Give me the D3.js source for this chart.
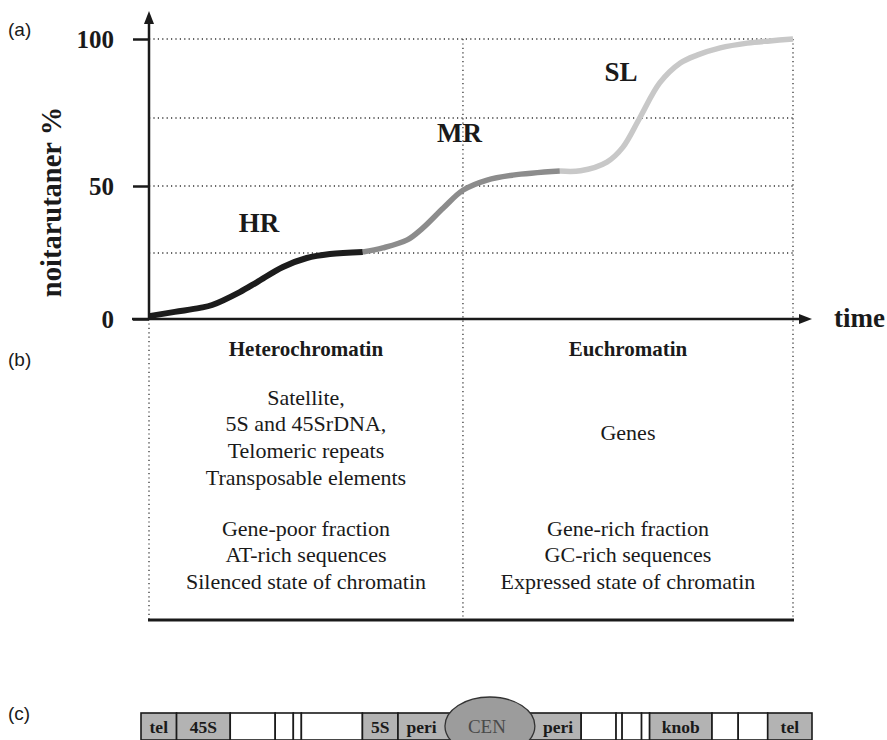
<!DOCTYPE html>
<html>
<head>
<meta charset="utf-8">
<script src="https://cdn.jsdelivr.net/npm/d3@7"></script>
<style>
  body { margin: 0; background: #fff; }
  svg { display: block; }
</style>
</head>
<body>
<svg id="fig" width="887" height="740"></svg>
<script>
// ---- (a) renaturation kinetics ----
const time = [0, 4.0, 7.9, 9.8, 14.1, 16.8, 20.8, 24.5, 28.1, 33.2,
              36.3, 40.1, 42.5, 45.7, 48.8, 52.5, 56.5, 63.8,
              67.0, 71.1, 73.6, 76.2, 79.3, 82.5, 85.1, 88.7, 92.9, 96.4, 100];
const renaturation = [1.1, 2.7, 4.2, 5.3, 10.2, 14.0, 19.7, 23.1, 24.6, 25.4,
                      26.9, 29.9, 34.3, 41.8, 48.5, 52.2, 54.0, 55.5,
                      55.6, 58.8, 64.3, 75, 86.1, 92.4, 94.9, 97.2, 98.7, 99.4, 100];
const fractions = ["HR", "MR", "SL"];
const fractionEnds = [33.2, 63.8, 100];
const yTickValues = [0, 50, 100];
const gridValues = [25, 50, 75, 100];
const divideAt = 48.75;   // heterochromatin | euchromatin boundary on the time axis

// ---- (b) chromatin classes ----
const columns = ["Heterochromatin", "Euchromatin"];
const upperLines = [
  ["Satellite,", "5S and 45SrDNA,", "Telomeric repeats", "Transposable elements"],
  ["Genes"]
];
const lowerLines = [
  ["Gene-poor fraction", "AT-rich sequences", "Silenced state of chromatin"],
  ["Gene-rich fraction", "GC-rich sequences", "Expressed state of chromatin"]
];

// ---- (c) chromosome map (positions along the chromosome, % of length) ----
const bandStart  = [0, 5.3, 13.3, 20.0, 22.7, 23.9, 33.0, 38.3, 52.0, 65.6, 70.8, 71.7, 74.6, 75.8, 85.1, 89.0, 93.4];
const bandLabels = ["tel", "45S", "", "", "", "", "5S", "peri", "peri", "", "", "", "", "knob", "", "", "tel"];
const centromere = { label: "CEN", center: 52.0, halfWidth: 6.7 };

// ---- styling ----
const serif = "'Liberation Serif', 'Times New Roman', serif";
const sans = "'Liberation Sans', Arial, sans-serif";
const ink = "#1a1a1a";
const fractionColors = ["#1c1c1c", "#8c8c8c", "#c8c8c8"];
const fractionLabelPos = [[17.1, 36.2], [48.2, 69.5], [73.3, 89.6]];

const svg = d3.select("#fig");

const x = d3.scaleLinear().domain([0, 100]).range([149, 793]);
const y = d3.scaleLinear().domain([0, 25, 50, 75, 100]).range([319, 253, 186, 118, 39]);
const tableBottom = 620;

const dotted = sel => sel.attr("stroke", "#333").attr("stroke-width", 1.3)
  .attr("stroke-dasharray", "1.2,3.2").attr("fill", "none");

// horizontal grid
svg.append("g").selectAll("line").data(gridValues).join("line")
  .attr("x1", x(0)).attr("x2", x(100))
  .attr("y1", d => y(d)).attr("y2", d => y(d))
  .call(dotted);

// vertical dotted dividers
svg.append("line").attr("x1", x(divideAt)).attr("x2", x(divideAt))
  .attr("y1", y(100)).attr("y2", tableBottom).call(dotted);
svg.append("line").attr("x1", x(100)).attr("x2", x(100))
  .attr("y1", y(100)).attr("y2", tableBottom).call(dotted);
svg.append("line").attr("x1", x(0)).attr("x2", x(0))
  .attr("y1", y(0)).attr("y2", tableBottom).call(dotted);

// renaturation curve, one segment per fraction
const pts = time.map((t, i) => [t, renaturation[i]]);
const line = d3.line().x(d => x(d[0])).y(d => y(d[1])).curve(d3.curveCatmullRom.alpha(0.5));
let lo = 0;
fractions.forEach((f, i) => {
  const hi = fractionEnds[i];
  const seg = pts.filter(p => p[0] >= lo && p[0] <= hi);
  svg.append("path").attr("d", line(seg))
    .attr("fill", "none").attr("stroke", fractionColors[i])
    .attr("stroke-width", i === 0 ? 6 : 5.5)
    .attr("stroke-linecap", "butt").attr("stroke-linejoin", "round");
  svg.append("text")
    .attr("x", x(fractionLabelPos[i][0])).attr("y", y(fractionLabelPos[i][1]))
    .attr("dy", "0.35em").attr("text-anchor", "middle")
    .attr("font-family", serif).attr("font-weight", "bold").attr("font-size", 27)
    .attr("fill", ink).text(f);
  lo = hi;
});

// y axis ticks and labels
const yAxis = d3.axisLeft(y).tickValues(yTickValues).tickSize(16).tickPadding(19).tickFormat(d3.format("d"));
const gy = svg.append("g").attr("transform", `translate(${x(0)},0)`).call(yAxis);
gy.select(".domain").remove();
gy.selectAll(".tick line").attr("stroke", ink).attr("stroke-width", 2.5);
gy.selectAll(".tick text").attr("font-family", serif).attr("font-weight", "bold")
  .attr("font-size", 25).attr("fill", ink);

// axes lines with arrows
svg.append("line").attr("x1", x(0)).attr("x2", x(0)).attr("y1", y(0) + 1).attr("y2", 22)
  .attr("stroke", ink).attr("stroke-width", 2.5);
svg.append("path").attr("d", `M${x(0)},11 L${x(0) - 5},24 L${x(0) + 5},24 Z`).attr("fill", ink);
svg.append("line").attr("x1", 132).attr("x2", 800).attr("y1", y(0)).attr("y2", y(0))
  .attr("stroke", ink).attr("stroke-width", 2.5);
svg.append("path").attr("d", `M812,${y(0)} L799,${y(0) - 5} L799,${y(0) + 5} Z`).attr("fill", ink);

// axis titles
svg.append("text").attr("x", 834).attr("y", y(0) + 8)
  .attr("font-family", serif).attr("font-weight", "bold").attr("font-size", 27)
  .attr("fill", ink).text("time");
svg.append("text").attr("transform", "translate(51,202) rotate(-90)")
  .attr("text-anchor", "middle").attr("dy", "0.35em")
  .attr("font-family", serif).attr("font-weight", "bold").attr("font-size", 28.5)
  .attr("fill", ink).text("noitarutaner %");

// panel letters
[["(a)", 29], ["(b)", 359], ["(c)", 713]].forEach(([t, yy]) => {
  svg.append("text").attr("x", 8).attr("y", yy).attr("dy", "0.35em")
    .attr("font-family", sans).attr("font-size", 19).attr("fill", ink).text(t);
});

// (b) table contents
const colCenter = [(x(0) + x(divideAt)) / 2, (x(divideAt) + x(100)) / 2];
const upperTop = [397, 432];
const lineStep = 26.6;
columns.forEach((c, i) => {
  const cx = colCenter[i];
  svg.append("text").attr("x", cx).attr("y", 349).attr("dy", "0.35em")
    .attr("text-anchor", "middle").attr("font-family", serif).attr("font-weight", "bold")
    .attr("font-size", 21).attr("fill", ink).text(c);
  upperLines[i].forEach((t, k) => {
    svg.append("text").attr("x", cx).attr("y", upperTop[i] + k * lineStep)
      .attr("dy", "0.35em").attr("text-anchor", "middle")
      .attr("font-family", serif).attr("font-size", 22).attr("fill", ink).text(t);
  });
  lowerLines[i].forEach((t, k) => {
    svg.append("text").attr("x", cx).attr("y", 528 + k * lineStep)
      .attr("dy", "0.35em").attr("text-anchor", "middle")
      .attr("font-family", serif).attr("font-size", 22).attr("fill", ink).text(t);
  });
});
svg.append("line").attr("x1", x(0) - 1).attr("x2", x(100) + 1)
  .attr("y1", tableBottom).attr("y2", tableBottom)
  .attr("stroke", ink).attr("stroke-width", 3);

// (c) chromosome
const cx = d3.scaleLinear().domain([0, 100]).range([141, 812]);
const barTop = 713, barH = 27;
const bands = bandStart.map((s, i) => ({
  start: s, end: i < bandStart.length - 1 ? bandStart[i + 1] : 100, label: bandLabels[i]
}));
svg.append("g").selectAll("rect").data(bands).join("rect")
  .attr("x", d => cx(d.start)).attr("y", barTop)
  .attr("width", d => cx(d.end) - cx(d.start)).attr("height", barH)
  .attr("fill", d => d.label ? "#b3b3b3" : "#fff")
  .attr("stroke", ink).attr("stroke-width", 1.6);
svg.append("ellipse")
  .attr("cx", cx(centromere.center)).attr("cy", barTop + 13).attr("rx", cx(centromere.halfWidth) - cx(0))
  .attr("ry", 29).attr("fill", "#9c9c9c").attr("stroke", "#333").attr("stroke-width", 1.3);
const cenL = centromere.center - centromere.halfWidth, cenR = centromere.center + centromere.halfWidth;
svg.append("g").selectAll("text").data(bands.filter(d => d.label)).join("text")
  .attr("x", d => {
    let a = d.start, b = d.end;
    if (a < centromere.center && b > cenL) b = cenL;
    if (b > centromere.center && a < cenR) a = cenR;
    return (cx(a) + cx(b)) / 2;
  })
  .attr("y", 733).attr("text-anchor", "middle")
  .attr("font-family", serif).attr("font-weight", "bold").attr("font-size", 17.5)
  .attr("fill", ink).text(d => d.label);
svg.append("text").attr("x", cx(centromere.center) - 3).attr("y", 733).attr("text-anchor", "middle")
  .attr("font-family", serif).attr("font-size", 19).attr("fill", "#4a4a4a").text(centromere.label);
</script>
</body>
</html>
